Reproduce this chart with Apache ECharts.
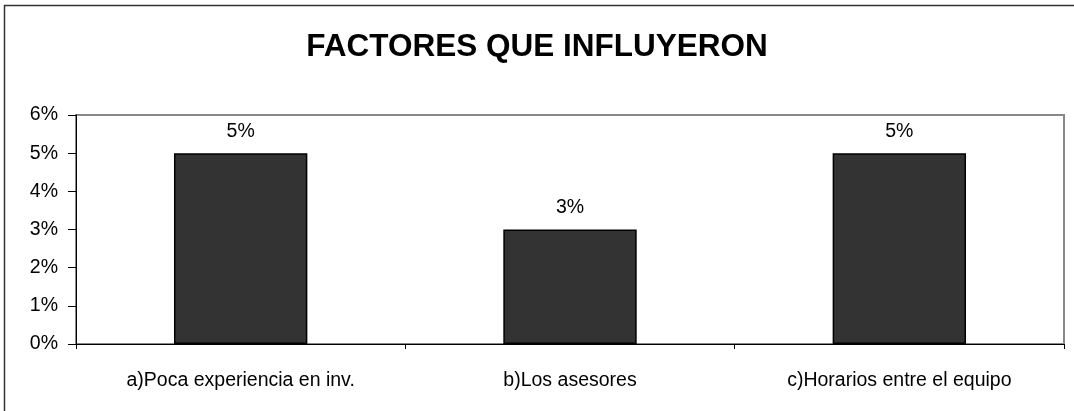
<!DOCTYPE html>
<html>
<head>
<meta charset="utf-8">
<script src="https://cdn.jsdelivr.net/npm/echarts@6/dist/echarts.min.js"></script>
<style>
  html, body { margin: 0; padding: 0; background: #fff; }
  #chart { width: 1074px; height: 411px; }
</style>
</head>
<body>
<div id="chart"></div>
<script>
const categories = ['a)Poca experiencia en inv.', 'b)Los asesores', 'c)Horarios entre el equipo']
const values = [5, 3, 5]
const titleText = 'FACTORES QUE INFLUYERON'

const chart = echarts.init(document.getElementById('chart'))

const option = {
  backgroundColor: '#fff',
  animation: false,
  title: {
    text: titleText,
    left: 'center',
    top: 26,
    textStyle: { fontFamily: 'Liberation Sans', fontWeight: 'bold', fontSize: 31.5, color: '#000' }
  },
  graphic: [{
    type: 'rect',
    shape: { x: 4.5, y: 5.5, width: 1200, height: 600 },
    style: { fill: 'none', stroke: '#333', lineWidth: 1.5 },
    z: 100
  }],
  grid: {
    left: 76, right: 10, top: 115, bottom: 67,
    show: true,
    borderColor: '#888',
    borderWidth: 2
  },
  xAxis: {
    type: 'category',
    data: categories,
    axisLine: { lineStyle: { color: '#000', width: 1 } },
    axisTick: { show: true, alignWithLabel: false, length: 5, lineStyle: { color: '#000' } },
    axisLabel: { color: '#000', fontFamily: 'Liberation Sans', fontSize: 19.5, margin: 27 }
  },
  yAxis: {
    type: 'value',
    min: 0, max: 6, interval: 1,
    axisLine: { show: true, lineStyle: { color: '#000', width: 1 } },
    axisTick: { show: true, length: 8, lineStyle: { color: '#000' } },
    splitLine: { show: false },
    axisLabel: { color: '#000', fontFamily: 'Liberation Sans', fontSize: 19.5, margin: 18, formatter: '{value}%' }
  },
  series: [{
    type: 'bar',
    data: values,
    barWidth: '40.5%',
    itemStyle: { color: '#333333', borderColor: '#000', borderWidth: 1.5 },
    label: {
      show: true,
      position: 'top',
      distance: 12,
      formatter: '{c}%',
      color: '#000',
      fontFamily: 'Liberation Sans',
      fontSize: 19.5
    }
  }]
}

chart.setOption(option)
</script>
</body>
</html>
